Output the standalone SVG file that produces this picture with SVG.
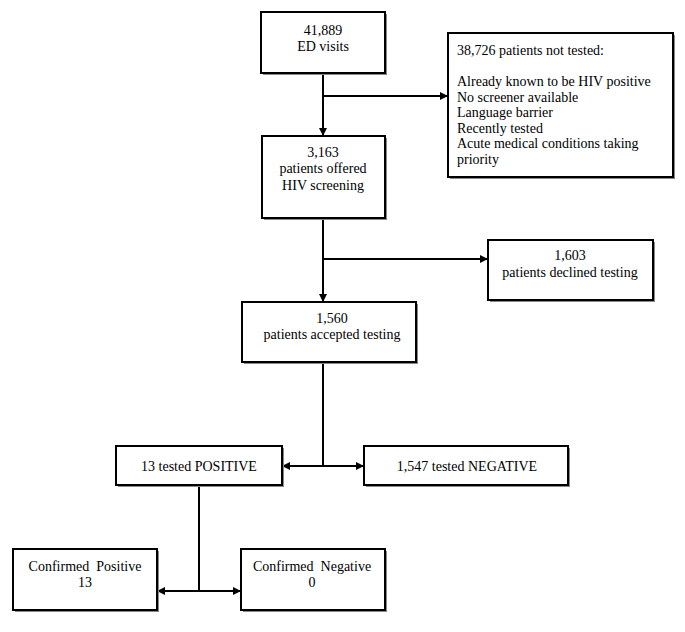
<svg xmlns="http://www.w3.org/2000/svg" width="685" height="632" viewBox="0 0 685 632">
<style>
.box{fill:#fff;stroke:#000;stroke-width:2}
.sh{fill:#888;stroke:none}
.t{font-family:"Liberation Serif","Times New Roman",serif;font-size:14px;fill:#000}
.c{text-anchor:middle}
.ln{stroke:#000;stroke-width:2;fill:none}
</style>
<defs>
<marker id="ah" markerWidth="8" markerHeight="8" refX="7" refY="4" orient="auto" markerUnits="userSpaceOnUse">
<path d="M0,0 L8,4 L0,8 z" fill="#000"/>
</marker>
</defs>
<rect width="685" height="632" fill="#fff"/>
<g id="connectors">
<line class="ln" x1="323" y1="73" x2="323" y2="135" marker-end="url(#ah)"/>
<line class="ln" x1="323" y1="96" x2="447" y2="96" marker-end="url(#ah)"/>
<line class="ln" x1="323" y1="218" x2="323" y2="301" marker-end="url(#ah)"/>
<line class="ln" x1="323" y1="259" x2="487" y2="259" marker-end="url(#ah)"/>
<line class="ln" x1="323" y1="362" x2="323" y2="466"/>
<line class="ln" x1="323" y1="466" x2="283" y2="466" marker-end="url(#ah)"/>
<line class="ln" x1="323" y1="466" x2="363" y2="466" marker-end="url(#ah)"/>
<line class="ln" x1="199" y1="485" x2="199" y2="591"/>
<line class="ln" x1="199" y1="591" x2="158" y2="591" marker-end="url(#ah)"/>
<line class="ln" x1="199" y1="591" x2="240" y2="591" marker-end="url(#ah)"/>
</g>
<g id="n1">
<rect class="sh" x="263" y="14" width="124" height="61"/>
<rect class="box" x="261" y="12" width="124" height="61"/>
<text class="t c" x="323" y="35">41,889</text>
<text class="t c" x="323" y="51">ED visits</text>
</g>
<g id="n2">
<rect class="sh" x="450" y="35" width="225" height="144"/>
<rect class="box" x="448" y="33" width="225" height="144"/>
<text class="t" x="457" y="55">38,726 patients not tested:</text>
<text class="t" x="457" y="86">Already known to be HIV positive</text>
<text class="t" x="457" y="102">No screener available</text>
<text class="t" x="457" y="117">Language barrier</text>
<text class="t" x="457" y="133">Recently tested</text>
<text class="t" x="457" y="148">Acute medical conditions taking</text>
<text class="t" x="457" y="164">priority</text>
</g>
<g id="n3">
<rect class="sh" x="264" y="138" width="123" height="82"/>
<rect class="box" x="262" y="136" width="123" height="82"/>
<text class="t c" x="323" y="157">3,163</text>
<text class="t c" x="323" y="173">patients offered</text>
<text class="t c" x="323" y="190">HIV screening</text>
</g>
<g id="n4">
<rect class="sh" x="490" y="242" width="165" height="60"/>
<rect class="box" x="488" y="240" width="165" height="60"/>
<text class="t c" x="570" y="260">1,603</text>
<text class="t c" x="570" y="277">patients declined testing</text>
</g>
<g id="n5">
<rect class="sh" x="244" y="304" width="174" height="60"/>
<rect class="box" x="242" y="302" width="174" height="60"/>
<text class="t c" x="332" y="323">1,560</text>
<text class="t c" x="332" y="339">patients accepted testing</text>
</g>
<g id="n6">
<rect class="sh" x="118" y="448" width="166" height="39"/>
<rect class="box" x="116" y="446" width="166" height="39"/>
<text class="t c" x="199" y="471">13 tested POSITIVE</text>
</g>
<g id="n7">
<rect class="sh" x="366" y="448" width="204" height="39"/>
<rect class="box" x="364" y="446" width="204" height="39"/>
<text class="t c" x="467" y="471">1,547 tested NEGATIVE</text>
</g>
<g id="n8">
<rect class="sh" x="15" y="551" width="144" height="61"/>
<rect class="box" x="13" y="549" width="144" height="61"/>
<text class="t c" x="85" y="571" xml:space="preserve">Confirmed  Positive</text>
<text class="t c" x="85" y="587">13</text>
</g>
<g id="n9">
<rect class="sh" x="243" y="551" width="144" height="61"/>
<rect class="box" x="241" y="549" width="144" height="61"/>
<text class="t c" x="312" y="571" xml:space="preserve">Confirmed  Negative</text>
<text class="t c" x="312" y="587">0</text>
</g>
</svg>
